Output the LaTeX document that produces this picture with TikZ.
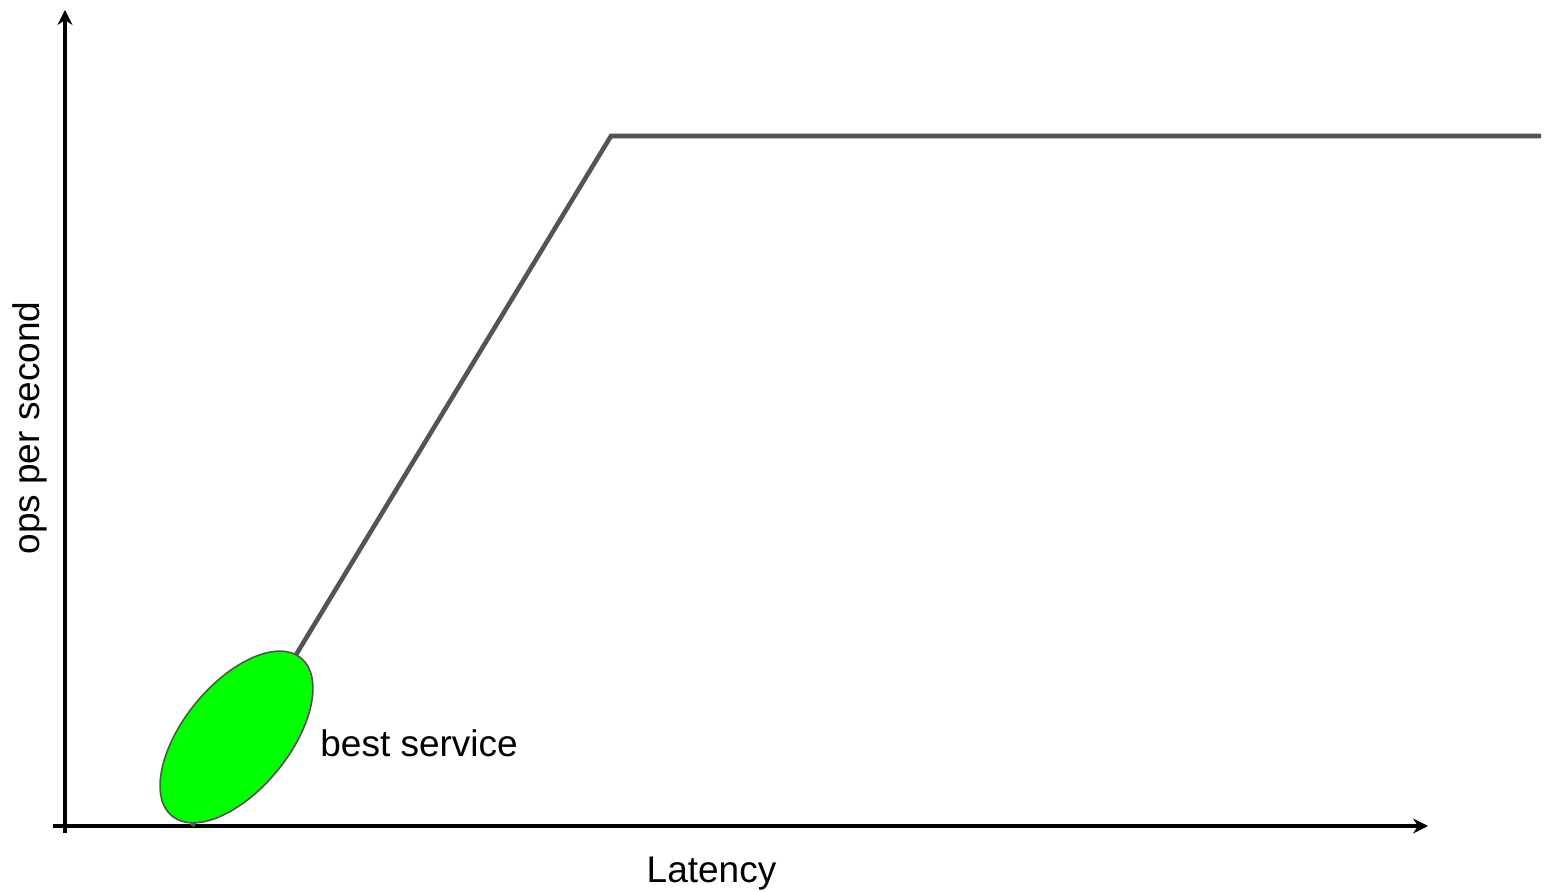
\documentclass[tikz,border=0pt]{standalone}
\usepackage{fontspec}
\setmainfont{Liberation Sans}
\usetikzlibrary{arrows.meta}
\begin{document}
\begin{tikzpicture}[x=0.5pt,y=0.5pt,
  axis/.style={-{Stealth[length=7.5pt,width=7.5pt,inset=2.5pt]},black,line width=1.8pt},
  curve/.style={draw=black!67,line width=2.3pt,line join=miter},
  region/.style={fill=green,draw=black!67,line width=0.8pt},
  label/.style={font=\fontsize{18.5}{22}\selectfont,inner sep=0pt}]
  \useasboundingbox (0,0) rectangle (1546,892);

  % Axis
  \coordinate (xstart) at (53,66);
  \coordinate (xend) at (1428,66);
  \coordinate (ystart) at (65,59);
  \coordinate (yend) at (65,882);
  \draw[axis] (xstart) -- (xend);
  \draw[axis] (ystart) -- (yend);

  % Throughput curve
  \coordinate (low) at (192,66);
  \coordinate (knee) at (611,756);
  \coordinate (high) at (1541,756);
  \draw[curve] (low) -- (knee) -- (high);

  % Best region
  \coordinate (best) at (236.5,155);
  \draw[region,rotate around={50.8:(best)}] (best) ellipse [x radius=102, y radius=53];

  % Labels
  \node[label,rotate=90,anchor=base] (ylabel) at (39,464) {ops per second};
  \node[label,anchor=base] (xlabel) at (711.5,9) {Latency};
  \node[label,anchor=base west] (bestlabel) at (320,135) {best service};

\end{tikzpicture}
\end{document}
